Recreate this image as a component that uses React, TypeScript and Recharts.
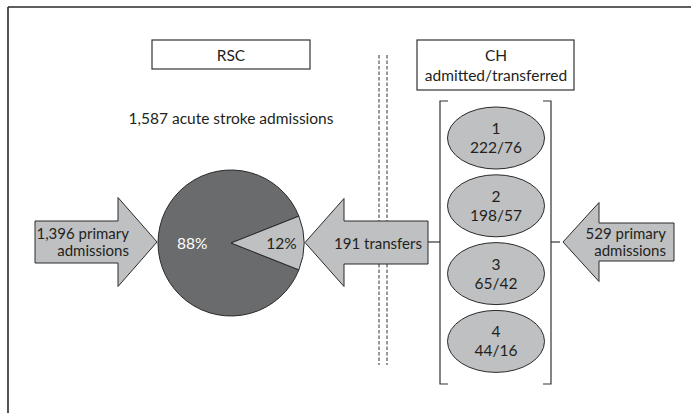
import { PieChart, Pie, Cell } from 'recharts';

const sliceNames = ['Primary admissions', 'Transfers'];
const sliceShares = [88, 12];
const sliceLabels = ['88%', '12%'];
const hospitalIds = ['1', '2', '3', '4'];
const admitted = [222, 198, 65, 44];
const transferred = [76, 57, 42, 16];
const rscTitle = 'RSC';
const chTitle = ['CH', 'admitted/transferred'];
const totalLabel = '1,587 acute stroke admissions';
const rscPrimary = ['1,396 primary', 'admissions'];
const transferLabel = '191 transfers';
const chPrimary = ['529 primary', 'admissions'];

const pieData = sliceNames.map((name, i) => ({ name, value: sliceShares[i] }));

const FONT = 'Lato, "Open Sans", sans-serif';
const TEXT = '#231f20';
const LIGHT = '#bfc0c2';
const DARK = '#6a6b6d';
const EDGE = '#2a2a2a';

// block arrow: tail -> tip, horizontal
function blockArrow(tail: number, base: number, tip: number, cy: number, body: number, head: number) {
  return [
    [tail, cy - body],
    [base, cy - body],
    [base, cy - head],
    [tip, cy],
    [base, cy + head],
    [base, cy + body],
    [tail, cy + body],
  ]
    .map((p) => p.join(','))
    .join(' ');
}

const renderSliceLabel = (props: any) => {
  const { cx, cy, midAngle, outerRadius, index } = props;
  const r = outerRadius * (index === 0 ? 0.53 : 0.69);
  const rad = (Math.PI / 180) * midAngle;
  const x = cx + r * Math.cos(rad);
  const y = cy - r * Math.sin(rad);
  return (
    <text
      x={x}
      y={y}
      textAnchor="middle"
      dominantBaseline="central"
      fontFamily={FONT}
      fontSize={15.5}
      fill={index === 0 ? '#ffffff' : TEXT}
    >
      {sliceLabels[index]}
    </text>
  );
};

export default function App() {
  const ellX = 496;
  const ellTop = 138;
  const ellStep = 67.8;
  const fs = 15.5;
  const arrowFs = 15;
  return (
    <div style={{ position: 'absolute', left: 0, top: 0, background: '#fff' }}>
      <PieChart width={691} height={413} margin={{ top: 0, right: 0, bottom: 0, left: 0 }}>
        {/* frame */}
        <line x1={8} y1={7} x2={691} y2={7} stroke={EDGE} strokeWidth={1.6} />
        <line x1={8} y1={7} x2={8} y2={413} stroke={EDGE} strokeWidth={1.6} />

        {/* header boxes */}
        <rect x={152} y={40} width={158} height={29} fill="#fff" stroke="#333" strokeWidth={1.2} />
        <text x={231} y={55} textAnchor="middle" dominantBaseline="central" fontFamily={FONT} fontSize={fs} fill={TEXT}>
          {rscTitle}
        </text>
        <rect x={417} y={40} width={157} height={50} fill="#fff" stroke="#333" strokeWidth={1.2} />
        <text x={496} y={55} textAnchor="middle" dominantBaseline="central" fontFamily={FONT} fontSize={fs} fill={TEXT}>
          {chTitle[0]}
        </text>
        <text x={496} y={75} textAnchor="middle" dominantBaseline="central" fontFamily={FONT} fontSize={fs} fill={TEXT}>
          {chTitle[1]}
        </text>

        <text x={231} y={118} textAnchor="middle" dominantBaseline="central" fontFamily={FONT} fontSize={fs} fill={TEXT}>
          {totalLabel}
        </text>

        {/* dashed divider */}
        <line x1={379} y1={55} x2={379} y2={365} stroke="#333" strokeDasharray="3.5 2" />
        <line x1={387} y1={55} x2={387} y2={365} stroke="#333" strokeDasharray="3.5 2" />

        {/* arrows */}
        <polygon points={blockArrow(35, 118, 157, 242, 21, 44.5)} fill={LIGHT} stroke={EDGE} strokeWidth={1} />
        <text textAnchor="end" fontFamily={FONT} fontSize={arrowFs} fill={TEXT}>
          <tspan x={129} y={239}>{rscPrimary[0]}</tspan>
          <tspan x={129} y={256}>{rscPrimary[1]}</tspan>
        </text>

        <polygon points={blockArrow(428, 344, 305, 242.5, 21.5, 44)} fill={LIGHT} stroke={EDGE} strokeWidth={1} />
        <text x={378} y={243} textAnchor="middle" dominantBaseline="central" fontFamily={FONT} fontSize={arrowFs} fill={TEXT}>
          {transferLabel}
        </text>

        <polygon points={blockArrow(674, 599, 563, 242, 19, 39.5)} fill={LIGHT} stroke={EDGE} strokeWidth={1} />
        <text textAnchor="end" fontFamily={FONT} fontSize={arrowFs} fill={TEXT}>
          <tspan x={666} y={239}>{chPrimary[0]}</tspan>
          <tspan x={666} y={256}>{chPrimary[1]}</tspan>
        </text>

        {/* bracket around community hospitals */}
        <polyline points="448,101 440,101 440,384 448,384" fill="none" stroke="#333" strokeWidth={1.2} />
        <polyline points="543,101 551,101 551,384 543,384" fill="none" stroke="#333" strokeWidth={1.2} />
        <line x1={428} y1={242} x2={440} y2={242} stroke="#333" strokeWidth={1.2} />
        <line x1={551} y1={242} x2={560} y2={242} stroke="#333" strokeWidth={1.2} />

        {hospitalIds.map((id, i) => {
          const cy = ellTop + i * ellStep;
          return (
            <g key={id}>
              <ellipse cx={ellX} cy={cy} rx={48.5} ry={31} fill={LIGHT} stroke={EDGE} strokeWidth={1} />
              <text x={ellX} y={cy - 10} textAnchor="middle" dominantBaseline="central" fontFamily={FONT} fontSize={fs} fill={TEXT}>
                {id}
              </text>
              <text x={ellX} y={cy + 9} textAnchor="middle" dominantBaseline="central" fontFamily={FONT} fontSize={fs} fill={TEXT}>
                {`${admitted[i]}/${transferred[i]}`}
              </text>
            </g>
          );
        })}

        <Pie
          data={pieData}
          dataKey="value"
          nameKey="name"
          cx={231}
          cy={243}
          outerRadius={73}
          startAngle={21.6}
          endAngle={381.6}
          stroke={EDGE}
          strokeWidth={1}
          label={renderSliceLabel}
          labelLine={false}
          isAnimationActive={false}
        >
          <Cell fill={DARK} />
          <Cell fill={LIGHT} />
        </Pie>
      </PieChart>
    </div>
  );
}
